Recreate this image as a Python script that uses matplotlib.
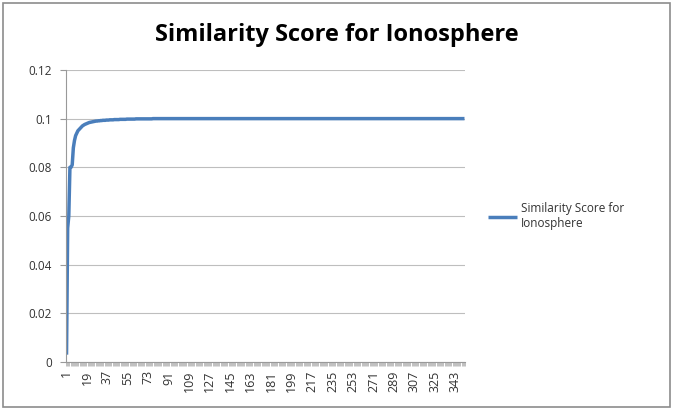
import numpy as np
import matplotlib.pyplot as plt
from matplotlib.patches import Rectangle

# scores: first 80 instances, then flat at 0.1
head = [0.003, 0.055, 0.060, 0.080, 0.080, 0.081, 0.088, 0.091, 0.093, 0.094,
        0.095, 0.0955, 0.096, 0.0965, 0.097, 0.0973, 0.0976, 0.0978, 0.098, 0.0982,
        0.0984, 0.0985, 0.0986, 0.0987, 0.0988, 0.0989, 0.099, 0.099, 0.0991, 0.0991,
        0.0992, 0.0992, 0.0993, 0.0993, 0.0993, 0.0994, 0.0994, 0.0994, 0.0995, 0.0995,
        0.0995, 0.0995, 0.0996, 0.0996, 0.0996, 0.0996, 0.0996, 0.0997, 0.0997, 0.0997,
        0.0997, 0.0997, 0.0997, 0.0998, 0.0998, 0.0998, 0.0998, 0.0998, 0.0998, 0.0998,
        0.0998, 0.0999, 0.0999, 0.0999, 0.0999, 0.0999, 0.0999, 0.0999, 0.0999, 0.0999,
        0.0999, 0.0999, 0.0999, 0.0999, 0.0999, 0.0999, 0.1, 0.1, 0.1, 0.1]
n_instances = 351
scores = head + [0.1] * (n_instances - len(head))
instances = list(range(1, n_instances + 1))
label_step = 18
y_ticks = [0, 0.02, 0.04, 0.06, 0.08, 0.1, 0.12]
y_labels = ['0', '0.02', '0.04', '0.06', '0.08', '0.1', '0.12']

plt.rcParams['font.family'] = ['Open Sans', 'DejaVu Sans']

fig = plt.figure(figsize=(6.73, 4.09), dpi=100)
ax = fig.add_axes([0.098, 0.115, 0.593, 0.714])

ax.plot(instances, scores, color='#4A7EBB', linewidth=2.5,
        label='Similarity Score for\nIonosphere', solid_capstyle='butt')

ax.set_xlim(0.5, n_instances + 0.5)
ax.set_ylim(0, 0.12)
ax.set_yticks(y_ticks)
ax.set_yticklabels(y_labels, fontsize=8.5, color='#333333')
ax.set_xticks(instances[::label_step])
ax.set_xticklabels([str(i) for i in instances[::label_step]], rotation=90,
                   fontsize=9, color='#333333')
ax.set_xticks(np.arange(0.5, n_instances + 1), minor=True)
ax.tick_params(axis='x', which='major', length=0, pad=6)
ax.tick_params(axis='x', which='minor', length=3, color='#A6A6A6', width=0.5)
ax.tick_params(axis='y', length=4, color='#999999', width=0.8, pad=6)

ax.grid(axis='y', color='#BEBEBE', linewidth=0.8)
ax.set_axisbelow(True)
for side in ['top', 'right']:
    ax.spines[side].set_visible(False)
for side in ['left', 'bottom']:
    ax.spines[side].set_color('#999999')
    ax.spines[side].set_linewidth(0.8)

fig.text(0.5, 0.915, 'Similarity Score for Ionosphere', ha='center', va='center',
         fontsize=17, fontweight='bold')

leg = ax.legend(loc='center left', bbox_to_anchor=(1.03, 0.5), frameon=False,
                fontsize=8.5, handlelength=2.5, handletextpad=0.3)
for t in leg.get_texts():
    t.set_color('#333333')

fig.patches.append(Rectangle((0.004, 0.006), 0.992, 0.986, transform=fig.transFigure,
                             fill=False, edgecolor='#8C8C8C', linewidth=1.2))

fig.savefig('out.png', dpi=100)
